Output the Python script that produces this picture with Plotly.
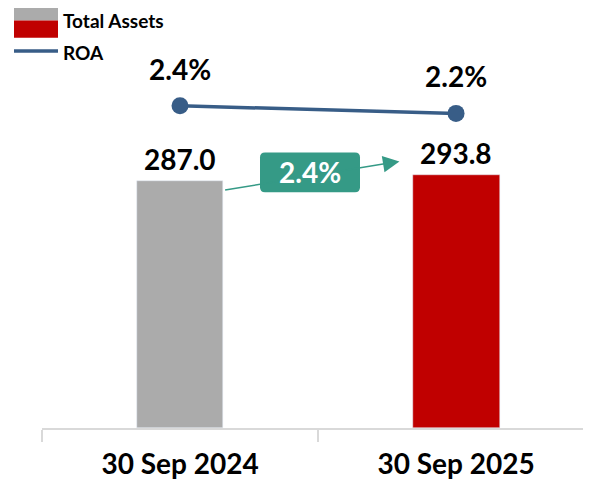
import plotly.graph_objects as go

dates = ["30 Sep 2024", "30 Sep 2025"]
total_assets = [287.0, 293.8]
roa = [2.4, 2.2]
growth_label = "2.4%"

bar_colors = ["#ABABAB", "#C00000"]
roa_color = "#385D87"
green = "#359A86"
font_family = "Lato, 'Open Sans', sans-serif"

# page body has an 8px margin, so the figure is offset by (8, 8)
OFF = 8
W, H = 583, 472
L, R, T, B = 42 - OFF, 0, 0, 48
plot_w = W - L - R
plot_h = H - T - B


def px_x(p):
    # p: screen pixel in reference picture
    return (p - OFF - L) / plot_w


def px_y(p):
    return (T + plot_h - (p - OFF)) / plot_h


fig = go.Figure()
fig.add_trace(go.Bar(x=dates, y=total_assets, marker_color=bar_colors,
                     width=0.315, name="Total Assets", showlegend=False))
fig.add_trace(go.Scatter(x=dates, y=roa, mode="lines+markers", yaxis="y2",
                         line=dict(color=roa_color, width=3.5),
                         marker=dict(size=17, color=roa_color),
                         name="ROA", showlegend=False))

# value labels
for i, v in enumerate(total_assets):
    fig.add_annotation(x=i, y=v, text=f"<b>{v:.1f}</b>", showarrow=False,
                       yanchor="bottom", yshift=3,
                       font=dict(size=28, color="black", family=font_family))
for i, v in enumerate(roa):
    fig.add_annotation(x=i, y=v, yref="y2", text=f"<b>{v:.1f}%</b>", showarrow=False,
                       yanchor="bottom", yshift=18,
                       font=dict(size=28, color="black", family=font_family))

# growth arrow from first bar to second bar
fig.add_annotation(x=0.795, y=310, ax=0.158, ay=276.5, xref="x", yref="y",
                   axref="x", ayref="y", text="", showarrow=True,
                   arrowhead=2, arrowsize=2.2, arrowwidth=1.5, arrowcolor=green)

# rounded box behind growth label
bx0, bx1, by0, by1, rad = 260, 360, 154, 194, 5
rx, ry = rad / plot_w, rad / plot_h
X0, X1, Y0, Y1 = px_x(bx0), px_x(bx1), px_y(by1), px_y(by0)
box_path = (f"M {X0+rx} {Y0} L {X1-rx} {Y0} Q {X1} {Y0} {X1} {Y0+ry} "
            f"L {X1} {Y1-ry} Q {X1} {Y1} {X1-rx} {Y1} L {X0+rx} {Y1} "
            f"Q {X0} {Y1} {X0} {Y1-ry} L {X0} {Y0+ry} Q {X0} {Y0} {X0+rx} {Y0} Z")

fig.add_annotation(x=px_x(310), y=px_y(174), xref="paper", yref="paper",
                   xanchor="center", yanchor="middle",
                   text=f"<b>{growth_label}</b>", showarrow=False,
                   font=dict(size=28, color="white", family=font_family))

# custom legend
shapes = [
    dict(type="path", xref="paper", yref="paper", path=box_path,
         fillcolor=green, line_width=0, layer="above"),
    dict(type="rect", xref="paper", yref="paper", x0=px_x(14), x1=px_x(58),
         y0=px_y(20.5), y1=px_y(3), fillcolor=bar_colors[0], line_width=0),
    dict(type="rect", xref="paper", yref="paper", x0=px_x(14), x1=px_x(58),
         y0=px_y(38), y1=px_y(20.5), fillcolor=bar_colors[1], line_width=0),
    dict(type="line", xref="paper", yref="paper", x0=px_x(14), x1=px_x(58),
         y0=px_y(51.5), y1=px_y(51.5), line=dict(color=roa_color, width=3.5)),
]
fig.add_annotation(x=px_x(61), y=px_y(20.5), xref="paper", yref="paper",
                   text="<b>Total Assets</b>", showarrow=False,
                   xanchor="left", yanchor="middle",
                   font=dict(size=19, color="black", family=font_family))
fig.add_annotation(x=px_x(61), y=px_y(53), xref="paper", yref="paper",
                   text="<b>ROA</b>", showarrow=False,
                   xanchor="left", yanchor="middle",
                   font=dict(size=19, color="black", family=font_family))

fig.update_layout(
    width=W, height=H,
    margin=dict(l=L, r=R, t=T, b=B),
    paper_bgcolor="white", plot_bgcolor="white",
    shapes=shapes,
    bargap=0,
    xaxis=dict(type="category", range=[-0.5, 1.489], showgrid=False,
               showline=True, linecolor="#D9D9D9", linewidth=1.5,
               ticks="outside", tickson="boundaries", ticklen=12,
               tickcolor="#D9D9D9", tickwidth=1.5, ticklabelstandoff=11,
               tickfont=dict(size=28, color="black", family=font_family),
               tickprefix="<b>", ticksuffix="</b>"),
    yaxis=dict(range=[0, 488.4], visible=False, showgrid=False),
    yaxis2=dict(range=[-6.16, 5.0], overlaying="y", visible=False, showgrid=False),
)

fig.write_html("out.html")
